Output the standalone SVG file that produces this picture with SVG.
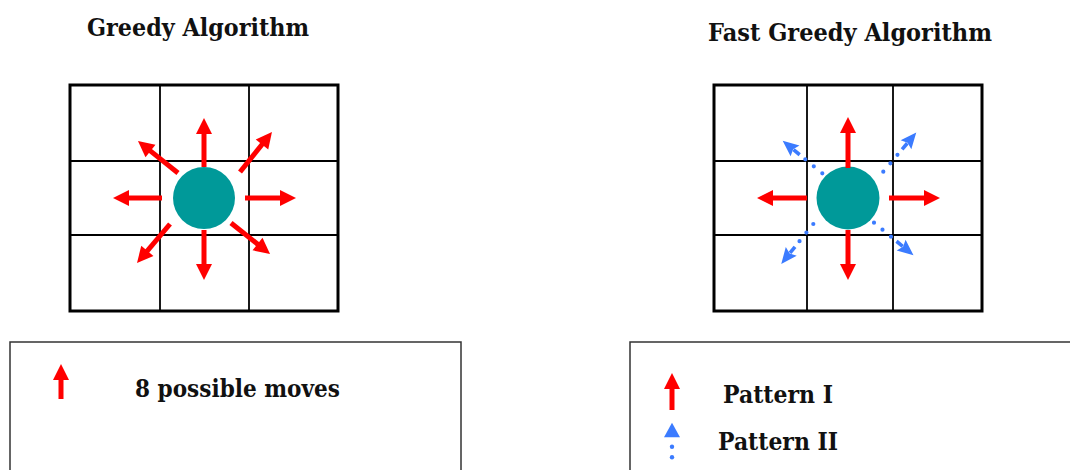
<svg xmlns="http://www.w3.org/2000/svg" width="1070" height="470" viewBox="0 0 1070 470">
<style>
.title{font-family:"DejaVu Serif","Liberation Serif",serif;font-weight:bold;font-size:24px;fill:#111}
.lbl{font-family:"DejaVu Serif","Liberation Serif",serif;font-weight:bold;font-size:24px;fill:#111}
.outer{fill:#fff;stroke:#000;stroke-width:3}
.inner{stroke:#000;stroke-width:1.8}
.box{fill:#fff;stroke:#333;stroke-width:1.5}
.red{stroke:#ff0000;stroke-width:5;fill:none;marker-end:url(#rh)}
.blue{stroke:#3b7bff;stroke-width:4.2;stroke-linecap:round;stroke-dasharray:0 11;fill:none;marker-end:url(#bh)}
.dot{fill:#3b7bff}
.ball{fill:#009999}
</style>
<defs>
<marker id="rh" markerUnits="userSpaceOnUse" orient="auto" markerWidth="20" markerHeight="20" refX="0" refY="0" overflow="visible">
<path d="M-1,-8 L15,0 L-1,8 z" fill="#ff0000"/>
</marker>
<marker id="bh" markerUnits="userSpaceOnUse" orient="auto" markerWidth="30" markerHeight="20" refX="0" refY="0" overflow="visible">
<rect x="7" y="-1.8" width="8" height="3.6" fill="#3b7bff"/>
<path d="M13,-7 L29,0 L13,7 L15.5,0 z" fill="#3b7bff"/>
</marker>
</defs>

<text class="title" x="87" y="36" textLength="222" lengthAdjust="spacingAndGlyphs">Greedy Algorithm</text>
<text class="title" x="708" y="41" textLength="284" lengthAdjust="spacingAndGlyphs">Fast Greedy Algorithm</text>

<g id="grid-greedy">
<rect class="outer" x="70" y="85" width="268" height="226"/>
<line class="inner" x1="160" y1="85" x2="160" y2="311"/>
<line class="inner" x1="249" y1="85" x2="249" y2="311"/>
<line class="inner" x1="70" y1="161" x2="338" y2="161"/>
<line class="inner" x1="70" y1="235" x2="338" y2="235"/>
<circle class="ball" cx="204" cy="198" r="31"/>
</g>

<g id="grid-fast">
<rect class="outer" x="714" y="85" width="268" height="226"/>
<line class="inner" x1="807" y1="85" x2="807" y2="311"/>
<line class="inner" x1="893" y1="85" x2="893" y2="311"/>
<line class="inner" x1="714" y1="161" x2="982" y2="161"/>
<line class="inner" x1="714" y1="235" x2="982" y2="235"/>
<circle class="ball" cx="848" cy="198" r="31.5"/>
</g>

<g id="connectors">
<line class="red" x1="204" y1="167" x2="204" y2="133"/>
<line class="red" x1="204" y1="230" x2="204" y2="265"/>
<line class="red" x1="245" y1="198" x2="281" y2="198"/>
<line class="red" x1="162" y1="198" x2="128" y2="198"/>
<line class="red" x1="240" y1="172" x2="262.6" y2="143.7"/>
<line class="red" x1="178" y1="173" x2="149.7" y2="150.4"/>
<line class="red" x1="170" y1="224" x2="146.7" y2="251.6"/>
<line class="red" x1="231" y1="223" x2="258.3" y2="244.7"/>

<line class="red" x1="848" y1="168" x2="848" y2="132"/>
<line class="red" x1="848" y1="230" x2="848" y2="265"/>
<line class="red" x1="889" y1="198" x2="925" y2="198"/>
<line class="red" x1="807" y1="198" x2="772" y2="198"/>
<line class="blue" x1="822.3" y1="173.3" x2="805.1" y2="159.2"/>
<line class="blue" x1="883.3" y1="171.7" x2="897.6" y2="154.7"/>
<line class="blue" x1="813.3" y1="224" x2="799.4" y2="241.3"/>
<line class="blue" x1="874" y1="222.7" x2="891.1" y2="236.8"/>
</g>

<g id="legend-greedy">
<rect class="box" x="10" y="342" width="451" height="140"/>
<line class="red" x1="61" y1="399" x2="61" y2="379"/>
<text class="lbl" x="135" y="397" textLength="205" lengthAdjust="spacingAndGlyphs">8 possible moves</text>
</g>

<g id="legend-fast">
<rect class="box" x="630" y="342" width="460" height="140"/>
<line class="red" x1="672" y1="410" x2="672" y2="388"/>
<text class="lbl" x="723" y="403" textLength="110" lengthAdjust="spacingAndGlyphs">Pattern I</text>
<path d="M672,422.7 L680,437.3 L664,437.3 z" class="dot"/>
<circle class="dot" cx="672" cy="446.7" r="2.2"/>
<circle class="dot" cx="672" cy="457.3" r="2.2"/>
<text class="lbl" x="718" y="450" textLength="120" lengthAdjust="spacingAndGlyphs">Pattern II</text>
</g>
</svg>
